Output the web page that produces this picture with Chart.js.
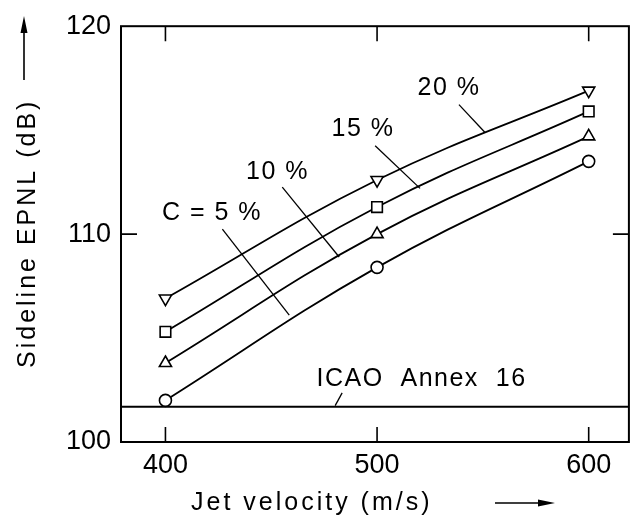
<!DOCTYPE html>
<html>
<head>
<meta charset="utf-8">
<script src="https://cdn.jsdelivr.net/npm/chart.js@4"></script>
<style>
  html, body { margin: 0; padding: 0; background: #fff; }
</style>
</head>
<body>
<canvas id="myChart" width="638" height="521"></canvas>
<script>
// jet velocity (m/s)
var velocity = [400, 500, 600];
// sideline EPNL (dB) for each C value
var epnl5 = [102.0, 108.4, 113.5];
var epnl10 = [103.8, 110.0, 114.7];
var epnl15 = [105.3, 111.3, 115.9];
var epnl20 = [106.9, 112.6, 116.9];
var icaoLimit = 101.7;
var xTicks = [400, 500, 600];
var yTicks = [100, 110, 120];

// curve labels with leader lines, in data units
var notes = [
  { text: 'C = 5 %', x: 422, y: 111.0, from: [426.9, 110.24], to: [458.5, 106.1] },
  { text: '10 %', x: 453, y: 113.0, from: [455.2, 112.26], to: [482.1, 108.9] },
  { text: '15 %', x: 493.4, y: 115.05, from: [499.1, 114.25], to: [520.3, 112.2] },
  { text: '20 %', x: 534, y: 117.03, from: [538.7, 116.23], to: [550.9, 114.9] },
  { text: 'ICAO  Annex  16', x: 521, y: 103.02, from: [483.5, 102.36], to: [480.2, 101.75] }
];

var FONT = '"Liberation Sans", Arial, sans-serif';

function pts(vals) {
  return velocity.map(function (v, i) { return { x: v, y: vals[i] }; });
}

function series(vals, style, rot, r) {
  return {
    data: pts(vals),
    borderColor: '#000',
    borderWidth: 1.8,
    tension: 0.4,
    pointStyle: style,
    rotation: rot,
    pointRadius: r,
    pointBackgroundColor: '#fff',
    pointBorderColor: '#000',
    pointBorderWidth: 1.6
  };
}

var frame = {
  id: 'frame',
  afterDatasetsDraw: function (chart) {
    var c = chart.ctx, a = chart.chartArea;
    var xs = chart.scales.x, ys = chart.scales.y;
    c.save();
    c.strokeStyle = '#000';
    c.lineWidth = 2;
    c.strokeRect(a.left, a.top, a.right - a.left, a.bottom - a.top);

    // inward ticks
    c.lineWidth = 1.6;
    xTicks.forEach(function (v) {
      var px = xs.getPixelForValue(v);
      c.beginPath();
      c.moveTo(px, a.bottom); c.lineTo(px, a.bottom - 15);
      c.moveTo(px, a.top); c.lineTo(px, a.top + 15);
      c.stroke();
    });
    yTicks.slice(1, -1).forEach(function (v) {
      var py = ys.getPixelForValue(v);
      c.beginPath();
      c.moveTo(a.left, py); c.lineTo(a.left + 16, py);
      c.moveTo(a.right, py); c.lineTo(a.right - 16, py);
      c.stroke();
    });

    // curve labels and leaders
    c.fillStyle = '#000';
    c.font = '25px ' + FONT;
    c.letterSpacing = '1.5px';
    c.textAlign = 'center';
    c.textBaseline = 'middle';
    c.lineWidth = 1.3;
    notes.forEach(function (n) {
      c.fillText(n.text, xs.getPixelForValue(n.x), ys.getPixelForValue(n.y));
      c.beginPath();
      c.moveTo(xs.getPixelForValue(n.from[0]), ys.getPixelForValue(n.from[1]));
      c.lineTo(xs.getPixelForValue(n.to[0]), ys.getPixelForValue(n.to[1]));
      c.stroke();
    });

    // axis titles
    c.font = '25px ' + FONT;
    c.letterSpacing = '3px';
    c.textAlign = 'left';
    c.fillText('Jet velocity (m/s)', a.left + 70, 503);
    c.save();
    c.translate(28, 368);
    c.rotate(-Math.PI / 2);
    c.textAlign = 'left';
    c.fillText('Sideline EPNL (dB)', 0, 0);
    c.restore();

    // arrows
    c.lineWidth = 1.6;
    c.beginPath();
    c.moveTo(495, 503); c.lineTo(545, 503);
    c.moveTo(24, 80); c.lineTo(24, 28);
    c.stroke();
    c.beginPath();
    c.moveTo(555, 503); c.lineTo(538, 499.5); c.lineTo(538, 506.5); c.closePath();
    c.moveTo(24, 16); c.lineTo(20.5, 33); c.lineTo(27.5, 33); c.closePath();
    c.fill();
    c.restore();
  }
};

var ctx = document.getElementById('myChart');
var myChart = new Chart(ctx, {
  type: 'line',
  data: {
    datasets: [
      series(epnl5, 'circle', 0, 6),
      series(epnl10, 'triangle', 0, 7),
      series(epnl15, 'rect', 0, 7.5),
      series(epnl20, 'triangle', 180, 7),
      {
        data: [{ x: 379, y: icaoLimit }, { x: 619, y: icaoLimit }],
        borderColor: '#000',
        borderWidth: 2,
        pointRadius: 0
      }
    ]
  },
  options: {
    responsive: false,
    animation: false,
    layout: { padding: { top: 18, right: 7, left: 0, bottom: 0 } },
    plugins: { legend: { display: false }, tooltip: { enabled: false } },
    scales: {
      x: {
        type: 'linear',
        min: 379,
        max: 619,
        afterBuildTicks: function (s) { s.ticks = xTicks.map(function (v) { return { value: v }; }); },
        afterFit: function (s) { s.height = 79; },
        grid: { display: false, drawTicks: false },
        border: { display: false },
        ticks: { color: '#000', padding: 7, font: { family: FONT, size: 27 } }
      },
      y: {
        min: 100,
        max: 120,
        afterBuildTicks: function (s) { s.ticks = yTicks.map(function (v) { return { value: v }; }); },
        afterFit: function (s) { s.width = 121; },
        grid: { display: false, drawTicks: false },
        border: { display: false },
        ticks: { color: '#000', padding: 10, font: { family: FONT, size: 27 } }
      }
    }
  },
  plugins: [frame]
});
</script>
</body>
</html>
